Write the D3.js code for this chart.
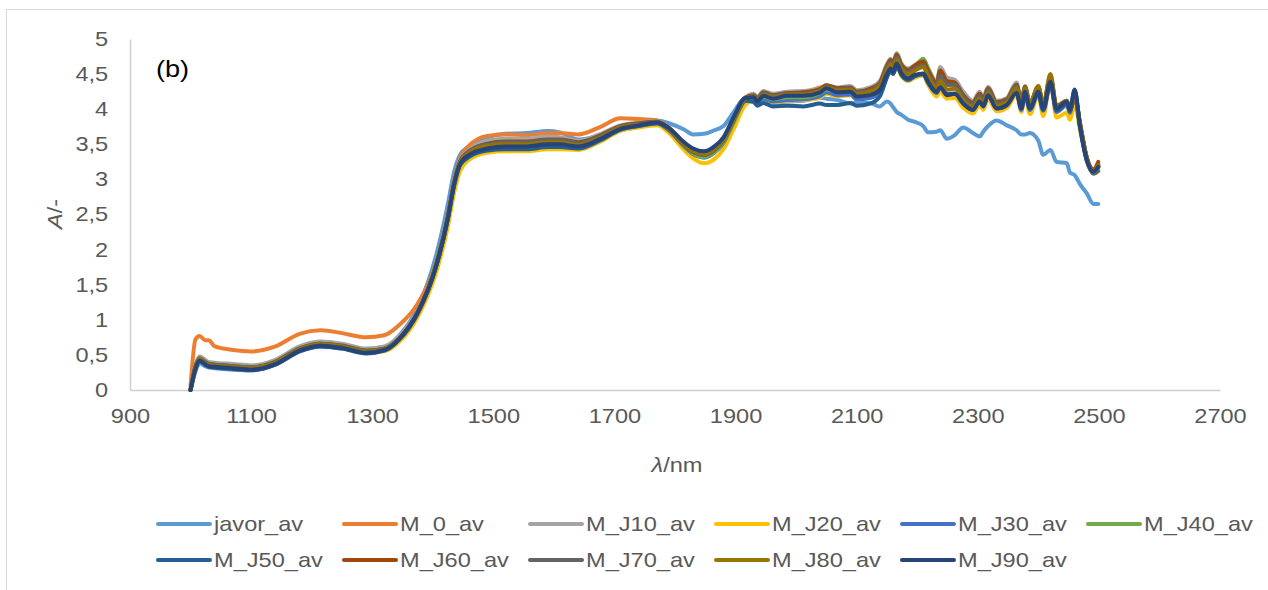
<!DOCTYPE html>
<html>
<head>
<meta charset="utf-8">
<script src="https://cdn.jsdelivr.net/npm/d3@7"></script>
<style>
  body { margin: 0; background: #fff; }
  svg { display: block; font-family: Arial, "Liberation Sans", sans-serif; }
</style>
</head>
<body>
<svg id="chart" width="1268" height="590"></svg>
<script>
// wavelength grid (nm) shared by all series
const wavelengths = [
  1000, 1008, 1015, 1024, 1030, 1040, 1070, 1100, 1140, 1180,
  1215, 1250, 1290, 1320, 1345, 1375, 1405, 1425, 1435, 1445,
  1460, 1490, 1520, 1555, 1590, 1610, 1640, 1675, 1710, 1740,
  1770, 1790, 1815, 1830, 1848, 1865, 1880, 1897, 1916, 1930,
  1936, 1946, 1962, 1985, 2012, 2040, 2050, 2068, 2090, 2100,
  2122, 2138, 2150, 2156, 2160, 2166, 2174, 2185, 2196, 2210,
  2218, 2232, 2238, 2249, 2262, 2276, 2292, 2303, 2309, 2317,
  2331, 2348, 2364, 2372, 2378, 2386, 2400, 2408, 2420, 2430,
  2447, 2452, 2460, 2469, 2480, 2491, 2499
];

const javorAv = [
  0, 0.26, 0.38, 0.34, 0.32, 0.31, 0.29, 0.28, 0.36, 0.55,
  0.62, 0.59, 0.54, 0.60, 0.78, 1.17, 1.90, 2.65, 3.10, 3.35,
  3.47, 3.60, 3.65, 3.66, 3.69, 3.67, 3.57, 3.62, 3.74, 3.79,
  3.84, 3.80, 3.71, 3.64, 3.65, 3.70, 3.76, 3.96, 4.16, 4.13,
  4.10, 4.12, 4.09, 4.11, 4.12, 4.16, 4.15, 4.13, 4.08, 4.09,
  4.09, 4.04, 4.11, 4.08, 4.03, 3.96, 3.92, 3.85, 3.82, 3.76,
  3.67, 3.68, 3.70, 3.58, 3.63, 3.74, 3.66, 3.61, 3.68, 3.76,
  3.84, 3.77, 3.70, 3.64, 3.64, 3.66, 3.55, 3.35, 3.42, 3.25,
  3.23, 3.10, 3.06, 2.93, 2.80, 2.65, 2.65
];
const m0Av = [
  0.05, 0.72, 0.77, 0.71, 0.71, 0.62, 0.57, 0.55, 0.62, 0.80,
  0.85, 0.81, 0.75, 0.78, 0.93, 1.23, 1.80, 2.50, 2.98, 3.30,
  3.48, 3.62, 3.64, 3.63, 3.66, 3.66, 3.64, 3.74, 3.87, 3.86,
  3.84, 3.74, 3.51, 3.40, 3.36, 3.43, 3.57, 3.87, 4.17, 4.21,
  4.16, 4.23, 4.19, 4.22, 4.24, 4.31, 4.33, 4.29, 4.31, 4.24,
  4.27, 4.35, 4.60, 4.68, 4.63, 4.76, 4.61, 4.54, 4.60, 4.66,
  4.53, 4.35, 4.55, 4.40, 4.40, 4.22, 4.10, 4.22, 4.15, 4.30,
  4.10, 4.14, 4.33, 4.08, 4.30, 4.07, 4.29, 4.04, 4.43, 4.02,
  4.12, 4.00, 4.17, 3.78, 3.30, 3.12, 3.22
];
const mJ10Av = [
  0, 0.35, 0.48, 0.43, 0.40, 0.39, 0.37, 0.35, 0.43, 0.62,
  0.69, 0.66, 0.59, 0.62, 0.77, 1.13, 1.78, 2.48, 2.95, 3.27,
  3.42, 3.55, 3.58, 3.58, 3.61, 3.60, 3.55, 3.64, 3.77, 3.81,
  3.83, 3.72, 3.49, 3.38, 3.34, 3.41, 3.55, 3.85, 4.16, 4.22,
  4.17, 4.26, 4.22, 4.25, 4.26, 4.30, 4.34, 4.31, 4.33, 4.27,
  4.31, 4.40, 4.64, 4.72, 4.67, 4.80, 4.65, 4.58, 4.63, 4.70,
  4.58, 4.40, 4.60, 4.45, 4.42, 4.25, 4.12, 4.25, 4.17, 4.32,
  4.12, 4.16, 4.38, 4.12, 4.33, 4.09, 4.32, 4.06, 4.45, 4.04,
  4.12, 4.00, 4.18, 3.80, 3.32, 3.14, 3.22
];
const mJ20Av = [
  0, 0.31, 0.43, 0.38, 0.35, 0.34, 0.32, 0.30, 0.38, 0.57,
  0.64, 0.61, 0.53, 0.55, 0.69, 1.04, 1.66, 2.33, 2.80, 3.12,
  3.28, 3.38, 3.40, 3.40, 3.43, 3.43, 3.42, 3.53, 3.69, 3.74,
  3.77, 3.66, 3.42, 3.30, 3.23, 3.29, 3.43, 3.72, 4.06, 4.12,
  4.08, 4.13, 4.10, 4.12, 4.13, 4.17, 4.22, 4.18, 4.20, 4.14,
  4.17, 4.25, 4.47, 4.55, 4.50, 4.60, 4.47, 4.40, 4.45, 4.48,
  4.35, 4.18, 4.25, 4.15, 4.16, 4.02, 3.94, 4.06, 3.99, 4.15,
  3.97, 4.02, 4.20, 3.96, 4.20, 3.93, 4.20, 3.90, 4.38, 3.88,
  3.95, 3.85, 4.05, 3.70, 3.26, 3.10, 3.20
];
const mJ30Av = [
  0, 0.30, 0.42, 0.37, 0.34, 0.33, 0.31, 0.29, 0.37, 0.56,
  0.63, 0.60, 0.53, 0.57, 0.73, 1.10, 1.75, 2.45, 2.92, 3.22,
  3.34, 3.43, 3.45, 3.45, 3.48, 3.48, 3.46, 3.56, 3.71, 3.76,
  3.80, 3.70, 3.47, 3.36, 3.31, 3.38, 3.52, 3.82, 4.12, 4.14,
  4.09, 4.15, 4.11, 4.13, 4.14, 4.19, 4.24, 4.20, 4.21, 4.14,
  4.16, 4.24, 4.48, 4.56, 4.51, 4.62, 4.49, 4.42, 4.47, 4.50,
  4.38, 4.23, 4.33, 4.22, 4.22, 4.08, 3.99, 4.11, 4.04, 4.20,
  4.01, 4.06, 4.24, 3.99, 4.22, 3.99, 4.22, 3.98, 4.36, 3.96,
  4.06, 3.95, 4.20, 3.74, 3.27, 3.10, 3.18
];
const mJ40Av = [
  0, 0.33, 0.45, 0.40, 0.37, 0.36, 0.34, 0.32, 0.40, 0.59,
  0.66, 0.63, 0.56, 0.59, 0.74, 1.10, 1.76, 2.46, 2.93, 3.24,
  3.38, 3.48, 3.50, 3.50, 3.53, 3.53, 3.49, 3.59, 3.74, 3.78,
  3.81, 3.71, 3.48, 3.37, 3.32, 3.39, 3.53, 3.82, 4.13, 4.16,
  4.11, 4.18, 4.14, 4.17, 4.17, 4.23, 4.28, 4.25, 4.27, 4.21,
  4.24, 4.32, 4.57, 4.65, 4.60, 4.73, 4.58, 4.51, 4.60, 4.72,
  4.58, 4.35, 4.50, 4.35, 4.33, 4.15, 4.05, 4.17, 4.10, 4.26,
  4.06, 4.11, 4.30, 4.06, 4.28, 4.05, 4.28, 4.02, 4.42, 4.00,
  4.09, 3.98, 4.15, 3.76, 3.29, 3.12, 3.20
];
const mJ50Av = [
  0, 0.29, 0.41, 0.36, 0.33, 0.32, 0.30, 0.28, 0.36, 0.55,
  0.62, 0.59, 0.52, 0.56, 0.72, 1.09, 1.74, 2.44, 2.90, 3.20,
  3.32, 3.41, 3.43, 3.43, 3.46, 3.46, 3.44, 3.55, 3.71, 3.76,
  3.80, 3.71, 3.49, 3.39, 3.35, 3.42, 3.56, 3.85, 4.12, 4.10,
  4.05, 4.09, 4.04, 4.05, 4.04, 4.08, 4.06, 4.06, 4.09, 4.05,
  4.08, 4.18, 4.45, 4.55, 4.50, 4.62, 4.49, 4.42, 4.47, 4.50,
  4.38, 4.24, 4.32, 4.21, 4.22, 4.09, 3.99, 4.12, 4.05, 4.20,
  4.02, 4.07, 4.25, 4.02, 4.24, 4.02, 4.23, 3.99, 4.36, 3.98,
  4.08, 3.97, 4.28, 3.74, 3.27, 3.10, 3.17
];
const mJ60Av = [
  0, 0.33, 0.45, 0.40, 0.37, 0.36, 0.34, 0.32, 0.40, 0.59,
  0.66, 0.63, 0.56, 0.59, 0.74, 1.11, 1.77, 2.47, 2.94, 3.25,
  3.40, 3.51, 3.54, 3.54, 3.57, 3.57, 3.53, 3.62, 3.76, 3.80,
  3.82, 3.73, 3.51, 3.41, 3.37, 3.44, 3.58, 3.87, 4.16, 4.20,
  4.16, 4.24, 4.20, 4.23, 4.24, 4.29, 4.34, 4.30, 4.31, 4.25,
  4.29, 4.37, 4.62, 4.70, 4.65, 4.78, 4.63, 4.56, 4.62, 4.68,
  4.55, 4.37, 4.55, 4.40, 4.38, 4.20, 4.09, 4.22, 4.14, 4.30,
  4.10, 4.14, 4.35, 4.10, 4.32, 4.08, 4.31, 4.05, 4.43, 4.02,
  4.10, 3.98, 4.17, 3.78, 3.31, 3.14, 3.25
];
const mJ70Av = [
  0, 0.33, 0.45, 0.40, 0.37, 0.36, 0.34, 0.32, 0.40, 0.59,
  0.66, 0.63, 0.56, 0.59, 0.74, 1.11, 1.77, 2.47, 2.94, 3.25,
  3.40, 3.50, 3.53, 3.53, 3.56, 3.56, 3.52, 3.61, 3.75, 3.79,
  3.82, 3.72, 3.49, 3.39, 3.35, 3.42, 3.56, 3.85, 4.15, 4.19,
  4.15, 4.23, 4.19, 4.22, 4.22, 4.27, 4.32, 4.28, 4.30, 4.24,
  4.27, 4.35, 4.59, 4.67, 4.62, 4.75, 4.60, 4.53, 4.58, 4.63,
  4.50, 4.33, 4.48, 4.35, 4.35, 4.18, 4.07, 4.19, 4.12, 4.28,
  4.08, 4.13, 4.33, 4.09, 4.31, 4.08, 4.32, 4.06, 4.45, 4.03,
  4.11, 3.99, 4.18, 3.78, 3.30, 3.08, 3.12
];
const mJ80Av = [
  0, 0.32, 0.44, 0.39, 0.36, 0.35, 0.33, 0.31, 0.39, 0.58,
  0.65, 0.62, 0.55, 0.58, 0.73, 1.10, 1.76, 2.46, 2.93, 3.24,
  3.38, 3.48, 3.50, 3.50, 3.53, 3.53, 3.49, 3.59, 3.74, 3.78,
  3.81, 3.72, 3.50, 3.40, 3.36, 3.43, 3.57, 3.86, 4.15, 4.18,
  4.13, 4.21, 4.17, 4.21, 4.21, 4.26, 4.31, 4.27, 4.28, 4.22,
  4.25, 4.33, 4.56, 4.64, 4.58, 4.71, 4.57, 4.50, 4.55, 4.60,
  4.47, 4.30, 4.40, 4.28, 4.29, 4.13, 4.03, 4.15, 4.08, 4.24,
  4.05, 4.10, 4.30, 4.07, 4.30, 4.08, 4.33, 4.07, 4.50, 4.05,
  4.12, 4.01, 4.20, 3.78, 3.30, 3.12, 3.20
];
const mJ90Av = [
  0, 0.30, 0.42, 0.37, 0.34, 0.33, 0.31, 0.29, 0.37, 0.56,
  0.63, 0.60, 0.53, 0.57, 0.73, 1.10, 1.75, 2.45, 2.92, 3.22,
  3.35, 3.44, 3.47, 3.47, 3.50, 3.50, 3.47, 3.57, 3.72, 3.77,
  3.81, 3.73, 3.53, 3.44, 3.40, 3.47, 3.60, 3.89, 4.16, 4.17,
  4.11, 4.19, 4.15, 4.19, 4.19, 4.24, 4.30, 4.24, 4.25, 4.18,
  4.20, 4.27, 4.50, 4.58, 4.53, 4.65, 4.51, 4.44, 4.49, 4.51,
  4.39, 4.25, 4.31, 4.20, 4.22, 4.08, 3.99, 4.11, 4.04, 4.20,
  4.01, 4.06, 4.23, 4.01, 4.25, 4.01, 4.25, 4.01, 4.39, 4.01,
  4.11, 3.99, 4.27, 3.75, 3.28, 3.11, 3.18
];

const seriesNames = ["javor_av", "M_0_av", "M_J10_av", "M_J20_av", "M_J30_av", "M_J40_av",
                     "M_J50_av", "M_J60_av", "M_J70_av", "M_J80_av", "M_J90_av"];
const seriesValues = [javorAv, m0Av, mJ10Av, mJ20Av, mJ30Av, mJ40Av,
                      mJ50Av, mJ60Av, mJ70Av, mJ80Av, mJ90Av];
const seriesColors = ["#5B9BD5", "#ED7D31", "#A5A5A5", "#FFC000", "#4472C4", "#70AD47",
                      "#255E91", "#9E480E", "#636363", "#997300", "#264478"];

const xTicks = [900, 1100, 1300, 1500, 1700, 1900, 2100, 2300, 2500, 2700];
const yTicks = [0, 0.5, 1, 1.5, 2, 2.5, 3, 3.5, 4, 4.5, 5];

// layout
const svg = d3.select("#chart");
const plot = { left: 130, right: 1220, top: 39, bottom: 390 };
const textColor = "#595959";
const stretch = 1.18;   // the reference text is a bit wide

const x = d3.scaleLinear().domain([900, 2700]).range([plot.left, plot.right]);
const y = d3.scaleLinear().domain([0, 5]).range([plot.bottom, plot.top]);

// outer chart frame
svg.append("rect")
    .attr("x", 6.5).attr("y", 9.5)
    .attr("width", 1275).attr("height", 600)
    .attr("fill", "none")
    .attr("stroke", "#d9d9d9");

// axes
const fmt = d => String(d).replace(".", ",");

const xAxis = svg.append("g")
    .attr("transform", "translate(0," + plot.bottom + ")")
    .call(d3.axisBottom(x).tickValues(xTicks).tickSize(0).tickPadding(19).tickFormat(d => d));

const yAxis = svg.append("g")
    .attr("transform", "translate(" + plot.left + ",0)")
    .call(d3.axisLeft(y).tickValues(yTicks).tickSize(0).tickPadding(18.5).tickFormat(fmt));

[xAxis, yAxis].forEach(g => {
    g.select(".domain").attr("stroke", "#cfcfcf").attr("stroke-width", 1.5);
    g.selectAll("text")
        .attr("fill", textColor)
        .style("font-size", "20px")
        .attr("transform", "scale(" + stretch + ",1)");
});

// series lines
const line = d3.line()
    .x((d, i) => x(wavelengths[i]))
    .y(d => y(d))
    .curve(d3.curveMonotoneX);

svg.append("g")
    .selectAll("path")
    .data(seriesValues)
    .join("path")
    .attr("fill", "none")
    .attr("stroke", (d, i) => seriesColors[i])
    .attr("stroke-width", 4)
    .attr("stroke-linejoin", "round")
    .attr("stroke-linecap", "round")
    .attr("d", line);

// text helper with horizontal stretch
function label(px, py, anchor) {
    return svg.append("text")
        .attr("transform", "translate(" + px + "," + py + ") scale(" + stretch + ",1)")
        .attr("text-anchor", anchor || "start")
        .style("font-size", "20px");
}

label(156, 77).attr("fill", "#000").style("font-size", "23px").text("(b)");

const xTitle = label(677, 472, "middle").attr("fill", textColor);
xTitle.append("tspan").style("font-style", "italic").text("λ");
xTitle.append("tspan").text("/nm");

const yTitle = svg.append("text")
    .attr("transform", "translate(62,214) rotate(-90) scale(" + stretch + ",1)")
    .attr("text-anchor", "middle")
    .attr("fill", textColor)
    .style("font-size", "20px");
yTitle.append("tspan").style("font-style", "italic").text("A");
yTitle.append("tspan").text("/-");

// legend, 6 per row
const legend = svg.append("g");
seriesNames.forEach((name, i) => {
    const lx = 158 + (i % 6) * 186;
    const ly = 524 + Math.floor(i / 6) * 36;
    legend.append("line")
        .attr("x1", lx).attr("x2", lx + 52)
        .attr("y1", ly).attr("y2", ly)
        .attr("stroke", seriesColors[i])
        .attr("stroke-width", 4)
        .attr("stroke-linecap", "round");
    label(lx + 56, ly + 7).attr("fill", textColor).text(name);
});
</script>
</body>
</html>
